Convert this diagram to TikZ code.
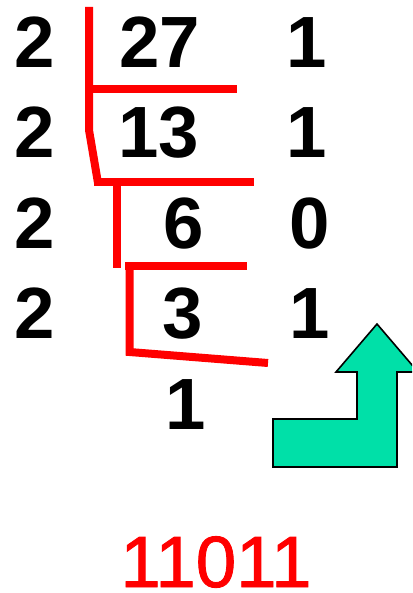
\documentclass[tikz,border=0pt]{standalone}
\usepackage{fontspec}
\setmainfont{Liberation Sans}
\newfontfamily\resultfont{Liberation Sans}[FakeBold=1.2]
\definecolor{arrowfill}{RGB}{0,224,168}
\definecolor{divred}{RGB}{255,0,0}
\begin{document}
\begin{tikzpicture}[x=1pt,y=-1pt,
  digit/.style={inner sep=0pt,anchor=base,font=\fontsize{72.6}{80}\selectfont\bfseries,text=black},
  result/.style={inner sep=0pt,anchor=base,font=\fontsize{72.6}{80}\resultfont,text=divred},
  divline/.style={draw=divred,line width=8pt,line cap=butt,line join=miter},
  bigarrow/.style={draw=black,line width=1.6pt,fill=arrowfill,line join=miter}]
\useasboundingbox (0,0) rectangle (412,593);
\clip (0,0) rectangle (412,593);
% divisors
\node[digit] (d1) at (34.5,68) {2};
\node[digit] (d2) at (34.5,158) {2};
\node[digit] (d3) at (34.5,248) {2};
\node[digit] (d4) at (34.5,338) {2};
% quotients
\node[digit] (q1) at (160,68) {27};
\node[digit] (q2) at (158.5,158) {13};
\node[digit] (q3) at (183.5,248) {6};
\node[digit] (q4) at (183,338) {3};
\node[digit] (q5) at (186,429) {1};
% remainders
\node[digit] (r1) at (307,68) {1};
\node[digit] (r2) at (307,158) {1};
\node[digit] (r3) at (310,248) {0};
\node[digit] (r4) at (309.5,338) {1};
% result
\node[result] (res) at (216,587) {11011};
% division lines
\draw[divline] (89,7) -- (89,130) -- (98,183);
\draw[divline] (89,89) -- (237,89);
\draw[divline] (94,182) -- (254,182);
\draw[divline] (117,186) -- (117,268);
\draw[divline] (125,266) -- (247,266);
\draw[divline] (129.5,262) -- (129.5,352) -- (268,363);
% arrow
\draw[bigarrow] (273,419) -- (357,419) -- (357,372) -- (336,372) -- (377,324)
  -- (418,372) -- (397,372) -- (397,467) -- (273,467) -- cycle;
\end{tikzpicture}
\end{document}
